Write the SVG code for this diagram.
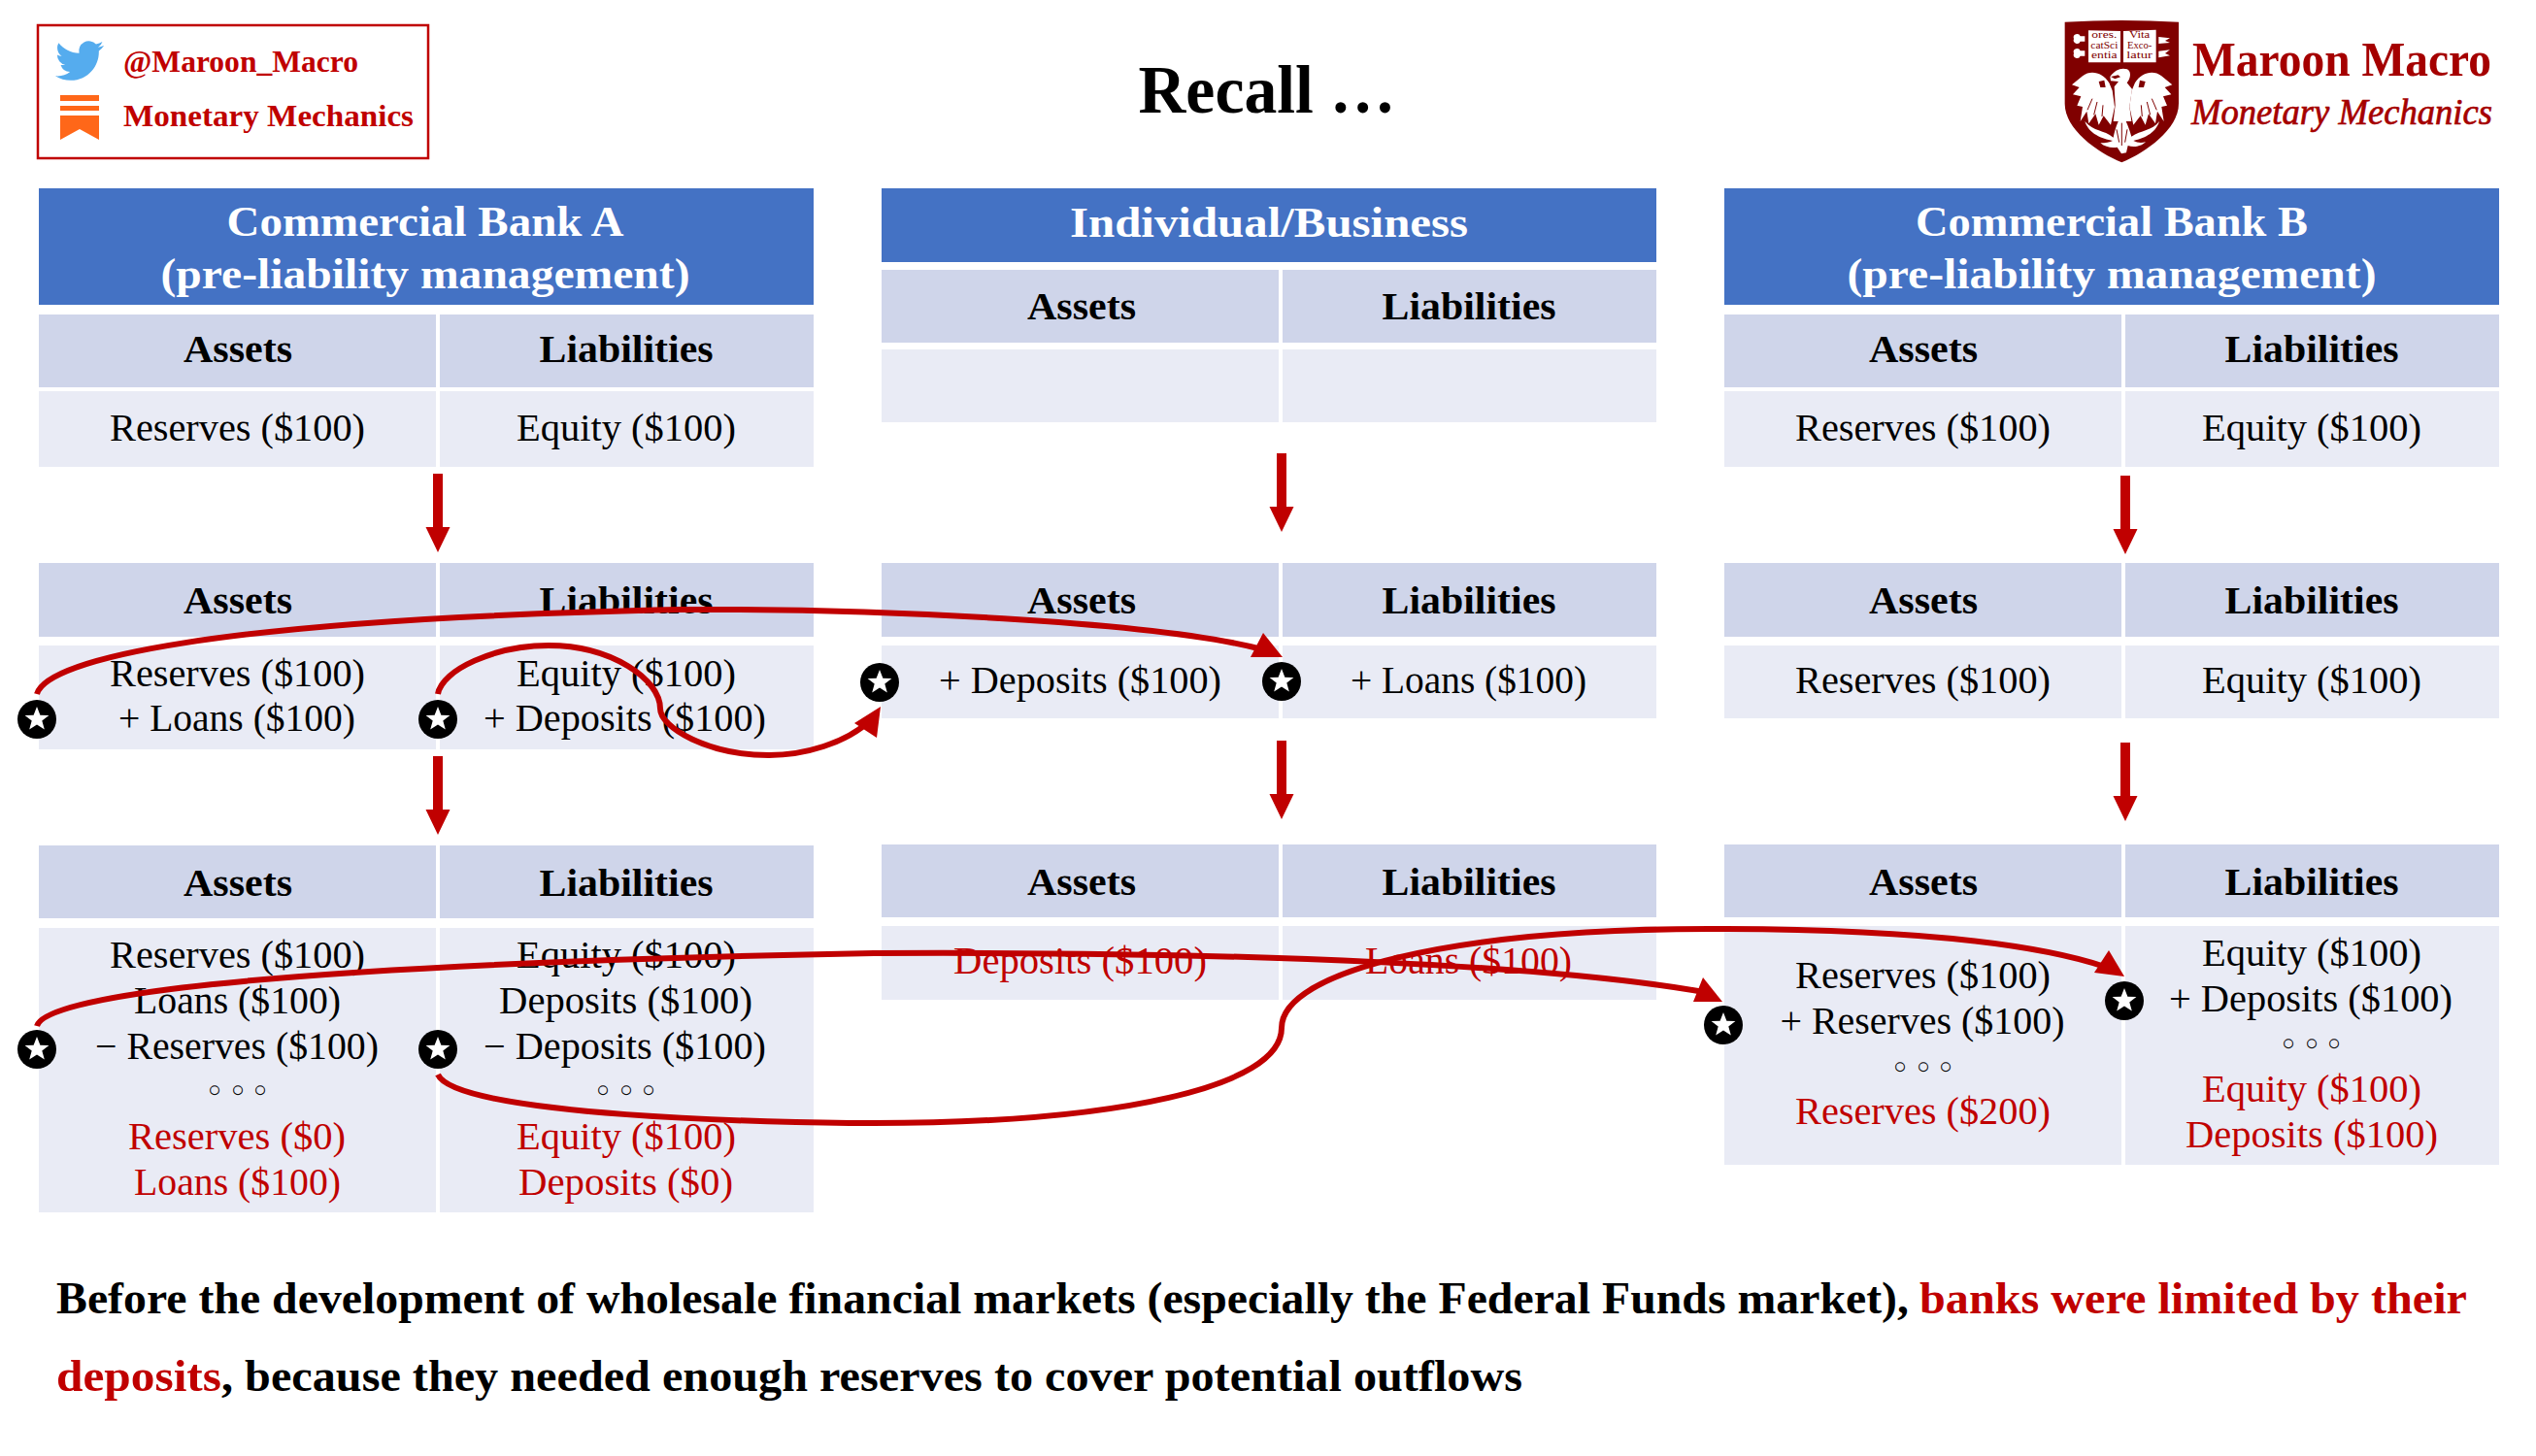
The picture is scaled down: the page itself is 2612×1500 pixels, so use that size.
<svg xmlns="http://www.w3.org/2000/svg" width="2612" height="1500" viewBox="0 0 2612 1500">
<style>
text{font-family:"Liberation Serif","Times New Roman",serif;fill:#000;text-anchor:middle}
.b{font-weight:700}
.t{font-size:40px}
.r{fill:#C00000}
.h{font-size:45px;font-weight:700;fill:#fff}
.f{font-size:47px;font-weight:700;text-anchor:start}
.d{font-family:"DejaVu Sans",sans-serif;font-size:34px}
.hd{fill:#4472C4}.ca{fill:#CFD5EA}.cb{fill:#E9EBF5}
.c{fill:none;stroke:#C00000;stroke-width:6}
.v{fill:#C00000}
</style>
<defs>
<g id="star"><circle r="20" fill="#000"/><path fill="#fff" d="M0-13 3.4-4.2 12.4-4 5.3 1.6 7.8 10.6 0 5.4-7.8 10.6-5.3 1.6-12.4-4-3.4-4.2Z"/></g>
<path id="down" class="v" d="M-5 0H5V55H12.500L0 81-12.500 55H-5Z"/>
<g id="wing"><path fill="#fff" d="M187 226C168 196 132 184 105 205L72 232 95 240 75 262 100 268 88 296 105 300 98 345 118 314 124 352 145 322 155 356 170 328 192 356 204 300 197 250Z"/><path fill="#800000" d="M155 222 172 218 176 240 160 240Z"/><path stroke="#800000" stroke-width="3" fill="none" d="M120 310 135 275M140 325 150 285M165 330 168 295"/></g>
</defs>

<g id="social">
<rect x="39" y="26" width="402" height="137" fill="#fff" stroke="#C00000" stroke-width="2.500"/>
<path transform="translate(57 37.600) scale(2.080)" fill="#55ACEE" d="M23.953 4.57a10 10 0 01-2.825.775 4.958 4.958 0 002.163-2.723c-.951.555-2.005.959-3.127 1.184a4.92 4.92 0 00-8.384 4.482C7.69 8.095 4.067 6.13 1.64 3.162a4.822 4.822 0 00-.666 2.475c0 1.71.87 3.213 2.188 4.096a4.904 4.904 0 01-2.228-.616v.06a4.923 4.923 0 003.946 4.827 4.996 4.996 0 01-2.212.085 4.936 4.936 0 004.604 3.417 9.867 9.867 0 01-6.102 2.105c-.39 0-.779-.023-1.17-.067a13.995 13.995 0 007.557 2.209c9.053 0 13.998-7.496 13.998-13.985 0-.21 0-.42-.015-.63A9.935 9.935 0 0024 4.59z"/>
<path fill="#FF6719" d="M62 98H102V104H62ZM62 109H102V114H62ZM62 119H102V144L82 133 62 144Z"/>
<text class="b r" x="248" y="74" font-size="32" textLength="242" lengthAdjust="spacingAndGlyphs">@Maroon_Macro</text>
<text class="b r" x="276.500" y="130" font-size="32" textLength="299" lengthAdjust="spacingAndGlyphs">Monetary Mechanics</text>
</g>

<g id="title"><text class="b" x="1305" y="116" font-size="70" textLength="265" lengthAdjust="spacingAndGlyphs">Recall …</text></g>

<g id="logo">
<g transform="translate(2110 10) scale(.3333)">
<path fill="#800000" d="M50 38Q225 28 402 38V290C402 370 300 440 226 472 150 440 50 370 50 290Z"/>
<path fill="#fff" d="M123 64 222 66V163H123ZM231 66 332 62V163H231Z"/>
<path fill="#fff" d="M78 90a10 10 0 0 1 20-8H112V98H98a10 10 0 0 1-20-8ZM78 135a10 10 0 0 1 20-8H112V143H98a10 10 0 0 1-20-8ZM340 84 375 88 360 96 375 102 340 105ZM340 128 375 124 360 135 375 142 340 148Z"/>
<g>
<text x="172" y="88" style="fill:#800000" font-size="28" textLength="78" lengthAdjust="spacingAndGlyphs">ores.</text>
<text x="172" y="120" style="fill:#800000" font-size="28" textLength="84" lengthAdjust="spacingAndGlyphs">catSci</text>
<text x="172" y="151" style="fill:#800000" font-size="28" textLength="80" lengthAdjust="spacingAndGlyphs">entia</text>
<text x="281" y="88" style="fill:#800000" font-size="28" textLength="64" lengthAdjust="spacingAndGlyphs">Vita</text>
<text x="281" y="120" style="fill:#800000" font-size="28" textLength="76" lengthAdjust="spacingAndGlyphs">Exco-</text>
<text x="281" y="151" style="fill:#800000" font-size="28" textLength="80" lengthAdjust="spacingAndGlyphs">latur</text>
</g>
<use href="#wing"/>
<use href="#wing" transform="matrix(-1 0 0 1 454 0)"/>
<path fill="#fff" d="M190 207C205 185 225 178 243 184 258 192 252 215 242 226L258 245 250 300 256 345 200 345 206 295 203 238 216 222 192 220Z"/>
<path fill="#800000" d="M192 207 215 202 222 208 205 214Z"/>
<path fill="#fff" d="M112 345C140 378 170 370 200 395 205 370 215 340 228 322 240 345 250 370 256 392 285 372 320 375 342 345 330 385 290 398 262 405 275 412 290 412 300 408 285 425 260 425 245 420L240 442 225 445 212 425C195 428 175 425 160 412 175 412 190 410 198 405 165 398 125 385 112 345Z"/>
<path stroke="#800000" stroke-width="3" fill="none" d="M226 350V420M210 370 218 410M243 370 236 410"/>
</g>
<text x="2412" y="78" font-size="50" style="fill:#A50000" textLength="308" lengthAdjust="spacingAndGlyphs" class="b">Maroon Macro</text>
<text x="2412" y="128" font-size="38" font-style="italic" style="fill:#A50000;stroke:#A50000;stroke-width:.7" textLength="310" lengthAdjust="spacingAndGlyphs">Monetary Mechanics</text>
</g>

<g id="bank-a">
<rect class="hd" x="40" y="194" width="798" height="120"/>
<text class="h" x="438" y="243" textLength="409" lengthAdjust="spacingAndGlyphs">Commercial Bank A</text>
<text class="h" x="438" y="297" textLength="545" lengthAdjust="spacingAndGlyphs">(pre-liability management)</text>
<g id="a1">
<rect class="ca" x="40" y="324" width="409" height="75"/><rect class="ca" x="453" y="324" width="385" height="75"/>
<rect class="cb" x="40" y="403" width="409" height="78"/><rect class="cb" x="453" y="403" width="385" height="78"/>
<text class="t b" x="245" y="373" textLength="112" lengthAdjust="spacingAndGlyphs">Assets</text>
<text class="t b" x="645" y="373" textLength="179" lengthAdjust="spacingAndGlyphs">Liabilities</text>
<text class="t" x="244.500" y="454" textLength="263" lengthAdjust="spacingAndGlyphs">Reserves ($100)</text>
<text class="t" x="645" y="454" textLength="226" lengthAdjust="spacingAndGlyphs">Equity ($100)</text>
</g>
<g id="a2">
<rect class="ca" x="40" y="580" width="409" height="76"/><rect class="ca" x="453" y="580" width="385" height="76"/>
<rect class="cb" x="40" y="665" width="409" height="107"/><rect class="cb" x="453" y="665" width="385" height="107"/>
<text class="t b" x="245" y="632" textLength="112" lengthAdjust="spacingAndGlyphs">Assets</text>
<text class="t b" x="645" y="632" textLength="179" lengthAdjust="spacingAndGlyphs">Liabilities</text>
<text class="t" x="244.500" y="707" textLength="263" lengthAdjust="spacingAndGlyphs">Reserves ($100)</text>
<text class="t" x="244" y="753" textLength="244" lengthAdjust="spacingAndGlyphs">+ Loans ($100)</text>
<text class="t" x="645" y="707" textLength="226" lengthAdjust="spacingAndGlyphs">Equity ($100)</text>
<text class="t" x="643.500" y="753" textLength="291" lengthAdjust="spacingAndGlyphs">+ Deposits ($100)</text>
</g>
<g id="a3">
<rect class="ca" x="40" y="871" width="409" height="75"/><rect class="ca" x="453" y="871" width="385" height="75"/>
<rect class="cb" x="40" y="956" width="409" height="293"/><rect class="cb" x="453" y="956" width="385" height="293"/>
<text class="t b" x="245" y="923" textLength="112" lengthAdjust="spacingAndGlyphs">Assets</text>
<text class="t b" x="645" y="923" textLength="179" lengthAdjust="spacingAndGlyphs">Liabilities</text>
<text class="t" x="244.500" y="997" textLength="263" lengthAdjust="spacingAndGlyphs">Reserves ($100)</text>
<text class="t" x="244.500" y="1044" textLength="213" lengthAdjust="spacingAndGlyphs">Loans ($100)</text>
<text class="t" x="244" y="1091" textLength="292" lengthAdjust="spacingAndGlyphs">− Reserves ($100)</text>
<text class="d" x="221 245 268" y="1136">◦◦◦</text>
<text class="t r" x="244" y="1184" textLength="224" lengthAdjust="spacingAndGlyphs">Reserves ($0)</text>
<text class="t r" x="244.500" y="1231" textLength="213" lengthAdjust="spacingAndGlyphs">Loans ($100)</text>
<text class="t" x="645" y="997" textLength="226" lengthAdjust="spacingAndGlyphs">Equity ($100)</text>
<text class="t" x="644.500" y="1044" textLength="261" lengthAdjust="spacingAndGlyphs">Deposits ($100)</text>
<text class="t" x="643.500" y="1091" textLength="291" lengthAdjust="spacingAndGlyphs">− Deposits ($100)</text>
<text class="d" x="621 645 668" y="1136">◦◦◦</text>
<text class="t r" x="645" y="1184" textLength="226" lengthAdjust="spacingAndGlyphs">Equity ($100)</text>
<text class="t r" x="644.500" y="1231" textLength="221" lengthAdjust="spacingAndGlyphs">Deposits ($0)</text>
</g>
</g>

<g id="individual">
<rect class="hd" x="908" y="194" width="798" height="76"/>
<text class="h" x="1307" y="244" textLength="410" lengthAdjust="spacingAndGlyphs">Individual/Business</text>
<g id="m1">
<rect class="ca" x="908" y="278" width="409" height="75"/><rect class="ca" x="1321" y="278" width="385" height="75"/>
<rect class="cb" x="908" y="360" width="409" height="75"/><rect class="cb" x="1321" y="360" width="385" height="75"/>
<text class="t b" x="1114" y="329" textLength="112" lengthAdjust="spacingAndGlyphs">Assets</text>
<text class="t b" x="1513" y="329" textLength="179" lengthAdjust="spacingAndGlyphs">Liabilities</text>
</g>
<g id="m2">
<rect class="ca" x="908" y="580" width="409" height="76"/><rect class="ca" x="1321" y="580" width="385" height="76"/>
<rect class="cb" x="908" y="665" width="409" height="75"/><rect class="cb" x="1321" y="665" width="385" height="75"/>
<text class="t b" x="1114" y="632" textLength="112" lengthAdjust="spacingAndGlyphs">Assets</text>
<text class="t b" x="1513" y="632" textLength="179" lengthAdjust="spacingAndGlyphs">Liabilities</text>
<text class="t" x="1112.500" y="714" textLength="291" lengthAdjust="spacingAndGlyphs">+ Deposits ($100)</text>
<text class="t" x="1512.500" y="714" textLength="243" lengthAdjust="spacingAndGlyphs">+ Loans ($100)</text>
</g>
<g id="m3">
<rect class="ca" x="908" y="870" width="409" height="75"/><rect class="ca" x="1321" y="870" width="385" height="75"/>
<rect class="cb" x="908" y="954" width="409" height="76"/><rect class="cb" x="1321" y="954" width="385" height="76"/>
<text class="t b" x="1114" y="922" textLength="112" lengthAdjust="spacingAndGlyphs">Assets</text>
<text class="t b" x="1513" y="922" textLength="179" lengthAdjust="spacingAndGlyphs">Liabilities</text>
<text class="t r" x="1112.500" y="1003" textLength="261" lengthAdjust="spacingAndGlyphs">Deposits ($100)</text>
<text class="t r" x="1512.500" y="1003" textLength="213" lengthAdjust="spacingAndGlyphs">Loans ($100)</text>
</g>
</g>

<g id="bank-b">
<rect class="hd" x="1776" y="194" width="798" height="120"/>
<text class="h" x="2175" y="243" textLength="404" lengthAdjust="spacingAndGlyphs">Commercial Bank B</text>
<text class="h" x="2175" y="297" textLength="545" lengthAdjust="spacingAndGlyphs">(pre-liability management)</text>
<g id="b1">
<rect class="ca" x="1776" y="324" width="409" height="75"/><rect class="ca" x="2189" y="324" width="385" height="75"/>
<rect class="cb" x="1776" y="403" width="409" height="78"/><rect class="cb" x="2189" y="403" width="385" height="78"/>
<text class="t b" x="1981" y="373" textLength="112" lengthAdjust="spacingAndGlyphs">Assets</text>
<text class="t b" x="2381" y="373" textLength="179" lengthAdjust="spacingAndGlyphs">Liabilities</text>
<text class="t" x="1980.500" y="454" textLength="263" lengthAdjust="spacingAndGlyphs">Reserves ($100)</text>
<text class="t" x="2381" y="454" textLength="226" lengthAdjust="spacingAndGlyphs">Equity ($100)</text>
</g>
<g id="b2">
<rect class="ca" x="1776" y="580" width="409" height="76"/><rect class="ca" x="2189" y="580" width="385" height="76"/>
<rect class="cb" x="1776" y="665" width="409" height="75"/><rect class="cb" x="2189" y="665" width="385" height="75"/>
<text class="t b" x="1981" y="632" textLength="112" lengthAdjust="spacingAndGlyphs">Assets</text>
<text class="t b" x="2381" y="632" textLength="179" lengthAdjust="spacingAndGlyphs">Liabilities</text>
<text class="t" x="1980.500" y="714" textLength="263" lengthAdjust="spacingAndGlyphs">Reserves ($100)</text>
<text class="t" x="2381" y="714" textLength="226" lengthAdjust="spacingAndGlyphs">Equity ($100)</text>
</g>
<g id="b3">
<rect class="ca" x="1776" y="870" width="409" height="75"/><rect class="ca" x="2189" y="870" width="385" height="75"/>
<rect class="cb" x="1776" y="954" width="409" height="246"/><rect class="cb" x="2189" y="954" width="385" height="246"/>
<text class="t b" x="1981" y="922" textLength="112" lengthAdjust="spacingAndGlyphs">Assets</text>
<text class="t b" x="2381" y="922" textLength="179" lengthAdjust="spacingAndGlyphs">Liabilities</text>
<text class="t" x="1980.500" y="1018" textLength="263" lengthAdjust="spacingAndGlyphs">Reserves ($100)</text>
<text class="t" x="1980" y="1065" textLength="293" lengthAdjust="spacingAndGlyphs">+ Reserves ($100)</text>
<text class="d" x="1957 1981 2004" y="1112">◦◦◦</text>
<text class="t r" x="1980.500" y="1158" textLength="263" lengthAdjust="spacingAndGlyphs">Reserves ($200)</text>
<text class="t" x="2381" y="995" textLength="226" lengthAdjust="spacingAndGlyphs">Equity ($100)</text>
<text class="t" x="2380" y="1042" textLength="292" lengthAdjust="spacingAndGlyphs">+ Deposits ($100)</text>
<text class="d" x="2357 2381 2404" y="1088">◦◦◦</text>
<text class="t r" x="2381" y="1135" textLength="226" lengthAdjust="spacingAndGlyphs">Equity ($100)</text>
<text class="t r" x="2381" y="1182" textLength="260" lengthAdjust="spacingAndGlyphs">Deposits ($100)</text>
</g>
</g>

<g id="connectors">
<use href="#down" x="451" y="488"/>
<use href="#down" x="451" y="779"/>
<use href="#down" x="1320" y="467"/>
<use href="#down" x="1320" y="763"/>
<use href="#down" x="2189" y="490"/>
<use href="#down" x="2189" y="765"/>
<path class="c" d="M38 715C48 680 215 638 700 628 900 627 1190 640 1300 669"/>
<path class="v" d="M1321 677 1301 652 1288 677Z"/>
<path class="c" d="M451 715C455 690 510 665 565 665 630 665 680 700 680 730 680 750 730 778 792 778 830 778 870 765 893 745"/>
<path class="v" d="M907 728 880 745 903 760Z"/>
<path class="c" d="M38 1057C46 1030 220 995 900 982 1300 980 1600 995 1755 1022"/>
<path class="v" d="M1774 1032 1754 1007 1744 1032Z"/>
<path class="c" d="M451 1107C470 1150 800 1157 900 1157 1150 1157 1320 1120 1320 1059 1320 1000 1500 957 1760 957 1950 957 2090 970 2168 996"/>
<path class="v" d="M2188 1006 2172 979 2157 1002Z"/>
</g>

<g id="stars">
<use href="#star" x="38" y="741"/>
<use href="#star" x="451" y="741"/>
<use href="#star" x="906" y="703"/>
<use href="#star" x="1320" y="702"/>
<use href="#star" x="38" y="1081"/>
<use href="#star" x="451" y="1081"/>
<use href="#star" x="1775" y="1056"/>
<use href="#star" x="2188" y="1031"/>
</g>

<g id="footer">
<text class="f" x="58" y="1353" textLength="1908" lengthAdjust="spacingAndGlyphs">Before the development of wholesale financial markets (especially the Federal Funds market),</text>
<text class="f r" x="1977" y="1353" textLength="564" lengthAdjust="spacingAndGlyphs">banks were limited by their</text>
<text class="f r" x="58" y="1433" textLength="170" lengthAdjust="spacingAndGlyphs">deposits</text>
<text class="f" x="228" y="1433" textLength="1340" lengthAdjust="spacingAndGlyphs">, because they needed enough reserves to cover potential outflows</text>
</g>
</svg>
